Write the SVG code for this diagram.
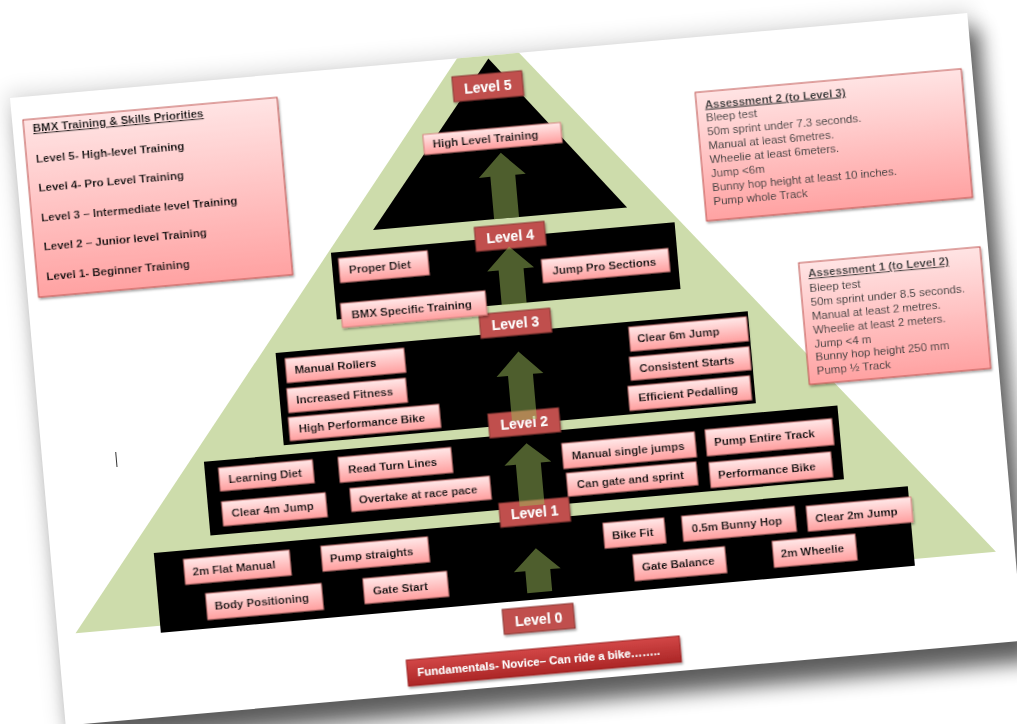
<svg xmlns="http://www.w3.org/2000/svg" width="1017" height="724" viewBox="0 0 1017 724">
<defs>
  <linearGradient id="pink" x1="0" y1="0" x2="0" y2="1">
    <stop offset="0" stop-color="#ffe8e8"/>
    <stop offset="1" stop-color="#ff9f9f"/>
  </linearGradient>
  <linearGradient id="panel" x1="0" y1="0" x2="0" y2="1">
    <stop offset="0" stop-color="#ffe4e4"/>
    <stop offset="1" stop-color="#ffa2a2"/>
  </linearGradient>
  <linearGradient id="red" x1="0" y1="0" x2="0" y2="1">
    <stop offset="0" stop-color="#d24747"/>
    <stop offset="1" stop-color="#ab2626"/>
  </linearGradient>
  <filter id="pageShadow" x="-10%" y="-10%" width="125%" height="130%">
    <feGaussianBlur stdDeviation="10"/>
  </filter>
  <filter id="ds" x="-10%" y="-20%" width="125%" height="160%">
    <feDropShadow dx="1" dy="2" stdDeviation="1.2" flood-color="#000" flood-opacity="0.35"/>
  </filter>
  <clipPath id="pageClip"><rect x="0" y="0" width="961" height="630"/></clipPath>
</defs>
<style>
  .node rect { fill: url(#pink); stroke: #d98482; stroke-width: 1; }
  .node text { font-family: "Liberation Sans", Arial, sans-serif; font-size: 11.5px; font-weight: bold; fill: #111; }
  .lvl rect { fill: #c0504d; stroke: #8c3836; stroke-width: 1; }
  .lvl text { font-family: "Liberation Sans", Arial, sans-serif; font-size: 14px; font-weight: bold; fill: #fff; text-anchor: middle; }
  .panel rect { fill: url(#panel); stroke: #c0504d; stroke-width: 1; }
  .legend text { font-family: "Liberation Sans", Arial, sans-serif; font-size: 11.5px; font-weight: bold; fill: #111; }
  .assess text { font-family: "Liberation Sans", Arial, sans-serif; font-size: 11.5px; fill: #404040; }
  .assess text.t { font-weight: bold; text-decoration: underline; }
  .band { fill: #000; }
  .arrow { fill: #9bbb59; fill-opacity: 0.5; }
</style>

<g transform="translate(10,98) rotate(-5.07)">
  <!-- page shadow and page -->
  <rect x="-4" y="-6" width="969" height="640" fill="#000" opacity="0.12" filter="url(#pageShadow)"/>
  <rect x="10" y="16" width="961" height="636" fill="#000" opacity="0.6" filter="url(#pageShadow)"/>
  <rect x="0" y="0" width="961" height="630" fill="#fff"/>

  <g clip-path="url(#pageClip)">
    <!-- pyramid background -->
    <g id="pyramid">
      <polygon points="480,-39 18,539 942,539" fill="#cddcab"/>
      <polygon class="band" points="480,3 350,163.5 605,163.5"/>
      <rect class="band" x="306" y="182.5" width="345" height="67"/>
      <rect class="band" x="242" y="277.5" width="474" height="92.5"/>
      <rect class="band" x="161" y="379.5" width="636" height="74"/>
      <rect class="band" x="103" y="466" width="757" height="80"/>
    </g>

    <!-- legend -->
    <g id="legend" class="panel legend" filter="url(#ds)">
      <rect x="11" y="23" width="255" height="178"/>
      <text x="20" y="36" text-decoration="underline">BMX Training &amp; Skills Priorities</text>
      <text x="20.5" y="67">Level 5- High-level Training</text>
      <text x="20.5" y="96">Level 4- Pro Level Training</text>
      <text x="20.5" y="126">Level 3 – Intermediate level Training</text>
      <text x="20.5" y="155">Level 2 – Junior level Training</text>
      <text x="20.5" y="185">Level 1- Beginner Training</text>
    </g>

    <!-- assessments -->
    <g id="assessment2" class="panel assess" filter="url(#ds)">
      <rect x="683" y="55" width="267" height="129"/>
      <text class="t" x="691.5" y="71.5">Assessment 2 (to Level 3)</text>
      <text x="691.5" y="85">Bleep test</text>
      <text x="691.5" y="99">50m sprint under 7.3 seconds.</text>
      <text x="691.5" y="113">Manual at least 6metres.</text>
      <text x="691.5" y="127">Wheelie at least 6meters.</text>
      <text x="691.5" y="141">Jump &lt;6m</text>
      <text x="691.5" y="155">Bunny hop height at least 10 inches.</text>
      <text x="691.5" y="169">Pump whole Track</text>
    </g>
    <g id="assessment1" class="panel assess" filter="url(#ds)">
      <rect x="771" y="234" width="182" height="122"/>
      <text class="t" x="779.5" y="249">Assessment 1 (to Level 2)</text>
      <text x="779.5" y="263.5">Bleep test</text>
      <text x="779.5" y="277.5">50m sprint under 8.5 seconds.</text>
      <text x="779.5" y="291.5">Manual at least 2 metres.</text>
      <text x="779.5" y="305.5">Wheelie at least 2 meters.</text>
      <text x="779.5" y="319.5">Jump &lt;4 m</text>
      <text x="779.5" y="333">Bunny hop height 250 mm</text>
      <text x="779.5" y="347">Pump ½ Track</text>
    </g>

    <!-- level labels -->
    <g id="level5" class="lvl" filter="url(#ds)"><rect x="442" y="18" width="70" height="25"/><text x="477" y="35.5">Level 5</text></g>
    <g id="level4" class="lvl" filter="url(#ds)"><rect x="451" y="170" width="70" height="24"/><text x="486" y="187">Level 4</text></g>
    <g id="level3" class="lvl" filter="url(#ds)"><rect x="448" y="257" width="71" height="24"/><text x="483.5" y="274">Level 3</text></g>
    <g id="level2" class="lvl" filter="url(#ds)"><rect x="448" y="357" width="71" height="24"/><text x="483.5" y="374">Level 2</text></g>
    <g id="level1" class="lvl" filter="url(#ds)"><rect x="451" y="447" width="70" height="24"/><text x="486" y="464">Level 1</text></g>
    <g id="level0" class="lvl" filter="url(#ds)"><rect x="445" y="553" width="71" height="25"/><text x="480.5" y="570.5">Level 0</text></g>

    <!-- skill nodes -->
    <g id="n-high-level-training" class="node" filter="url(#ds)"><rect x="408" y="73" width="138" height="20"/><text x="417" y="87">High Level Training</text></g>

    <g id="n-proper-diet" class="node" filter="url(#ds)"><rect x="313" y="189" width="89" height="24"/><text x="322.5" y="205">Proper Diet</text></g>
    <g id="n-bmx-specific" class="node" filter="url(#ds)"><rect x="311" y="234" width="145" height="24"/><text x="321" y="250">BMX Specific Training</text></g>
    <g id="n-jump-pro" class="node" filter="url(#ds)"><rect x="515" y="208" width="127" height="23"/><text x="525" y="223.5">Jump Pro Sections</text></g>

    <g id="n-manual-rollers" class="node" filter="url(#ds)"><rect x="251" y="284" width="119" height="24"/><text x="259.5" y="300">Manual Rollers</text></g>
    <g id="n-increased-fitness" class="node" filter="url(#ds)"><rect x="250" y="314" width="119" height="24"/><text x="258.5" y="330">Increased Fitness</text></g>
    <g id="n-high-perf-bike" class="node" filter="url(#ds)"><rect x="249" y="343" width="151" height="23"/><text x="258.5" y="358.5">High Performance Bike</text></g>
    <g id="n-clear-6m" class="node" filter="url(#ds)"><rect x="596" y="283" width="118" height="24"/><text x="603.5" y="299">Clear 6m Jump</text></g>
    <g id="n-consistent-starts" class="node" filter="url(#ds)"><rect x="594" y="313" width="120" height="23"/><text x="603" y="328.5">Consistent Starts</text></g>
    <g id="n-efficient-pedalling" class="node" filter="url(#ds)"><rect x="590" y="342" width="122" height="24"/><text x="599.5" y="358">Efficient Pedalling</text></g>

    <g id="n-learning-diet" class="node" filter="url(#ds)"><rect x="175" y="387" width="94" height="23"/><text x="184" y="402.5">Learning Diet</text></g>
    <g id="n-clear-4m" class="node" filter="url(#ds)"><rect x="175" y="421" width="104" height="24"/><text x="184" y="437">Clear 4m Jump</text></g>
    <g id="n-read-turn" class="node" filter="url(#ds)"><rect x="295" y="387" width="113" height="25"/><text x="304" y="403.5">Read Turn Lines</text></g>
    <g id="n-overtake" class="node" filter="url(#ds)"><rect x="304" y="419" width="140" height="23"/><text x="312" y="434.5">Overtake at race pace</text></g>
    <g id="n-manual-single" class="node" filter="url(#ds)"><rect x="519" y="393" width="133" height="25"/><text x="528" y="409.5">Manual single jumps</text></g>
    <g id="n-pump-entire" class="node" filter="url(#ds)"><rect x="663" y="392" width="127" height="26"/><text x="671" y="409">Pump Entire Track</text></g>
    <g id="n-can-gate" class="node" filter="url(#ds)"><rect x="521" y="423" width="130" height="23"/><text x="530.5" y="438.5">Can gate and sprint</text></g>
    <g id="n-performance-bike" class="node" filter="url(#ds)"><rect x="664" y="425" width="122" height="25"/><text x="672" y="441.5">Performance Bike</text></g>

    <g id="n-2m-flat" class="node" filter="url(#ds)"><rect x="132" y="475" width="106" height="25"/><text x="140" y="491.5">2m Flat Manual</text></g>
    <g id="n-body-pos" class="node" filter="url(#ds)"><rect x="151" y="511" width="116" height="26"/><text x="159" y="528">Body Positioning</text></g>
    <g id="n-pump-straights" class="node" filter="url(#ds)"><rect x="270" y="474" width="107" height="25"/><text x="278" y="490.5">Pump straights</text></g>
    <g id="n-gate-start" class="node" filter="url(#ds)"><rect x="309" y="510" width="84" height="25"/><text x="318" y="526.5">Gate Start</text></g>
    <g id="n-bike-fit" class="node" filter="url(#ds)"><rect x="553" y="476" width="61" height="25"/><text x="561" y="492.5">Bike Fit</text></g>
    <g id="n-bunny-hop" class="node" filter="url(#ds)"><rect x="632" y="476" width="113" height="25"/><text x="641" y="492.5">0.5m Bunny Hop</text></g>
    <g id="n-clear-2m" class="node" filter="url(#ds)"><rect x="757" y="477" width="105" height="25"/><text x="765" y="493.5">Clear 2m Jump</text></g>
    <g id="n-gate-balance" class="node" filter="url(#ds)"><rect x="580" y="510" width="92" height="26"/><text x="588" y="527">Gate Balance</text></g>
    <g id="n-2m-wheelie" class="node" filter="url(#ds)"><rect x="720" y="509" width="83" height="26"/><text x="727.5" y="526">2m Wheelie</text></g>

    <g id="fundamentals" filter="url(#ds)">
      <rect x="345" y="595" width="274" height="26" fill="url(#red)" stroke="#9e2222" stroke-width="1"/>
      <text x="355" y="612" font-family="'Liberation Sans', Arial, sans-serif" font-size="11.5" font-weight="bold" fill="#fff">Fundamentals- Novice– Can ride a bike……..</text>
    </g>

    <!-- progression arrows -->
    <g id="connectors">
      <polygon class="arrow" points="484,98 507,121 496.5,121 496.5,163.5 471.5,163.5 471.5,121 460,121"/>
      <polygon class="arrow" points="484,192 507,215 496.5,215 496.5,250 471.5,250 471.5,215 460,215"/>
      <polygon class="arrow" points="484,297.5 507,321 496.5,321 496.5,366 471.5,366 471.5,321 460,321"/>
      <polygon class="arrow" points="484,389.5 507,410 496.5,410 496.5,452 471.5,452 471.5,410 460,410"/>
      <polygon class="arrow" points="484,495 507,517 496.5,517 496.5,539 471.5,539 471.5,517 460,517"/>
    </g>

    <line x1="74" y1="362" x2="74" y2="377" stroke="#333" stroke-width="1"/>
  </g>
</g>
</svg>
